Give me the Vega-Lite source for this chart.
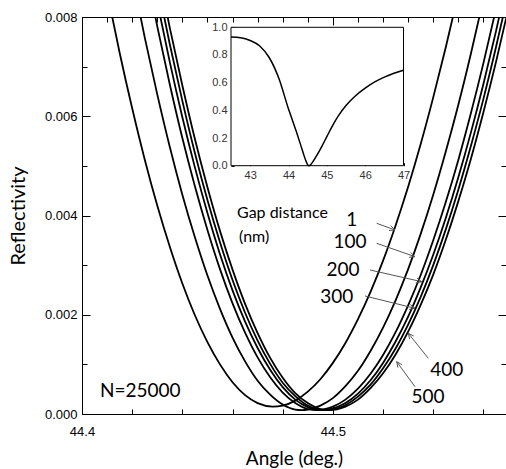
{
 "$schema": "https://vega.github.io/schema/vega-lite/v6.json",
 "autosize": {"type": "none"},
 "padding": {"left": 82, "top": 17, "right": 0, "bottom": 55},
 "width": 424,
 "height": 397,
 "background": "white",
 "config": {"view": {"stroke": null}, "axis": {"grid": false}},
 "datasets": {
  "curves": [
   {"gap":"1","angle":44.410,"reflectivity":0.00850},{"gap":"1","angle":44.415,"reflectivity":0.00728},{"gap":"1","angle":44.420,"reflectivity":0.00616},{"gap":"1","angle":44.425,"reflectivity":0.00513},{"gap":"1","angle":44.430,"reflectivity":0.00420},{"gap":"1","angle":44.435,"reflectivity":0.00337},{"gap":"1","angle":44.440,"reflectivity":0.00263},{"gap":"1","angle":44.445,"reflectivity":0.00199},{"gap":"1","angle":44.450,"reflectivity":0.00145},{"gap":"1","angle":44.455,"reflectivity":0.00100},{"gap":"1","angle":44.460,"reflectivity":0.00064},{"gap":"1","angle":44.465,"reflectivity":0.00038},{"gap":"1","angle":44.470,"reflectivity":0.00022},{"gap":"1","angle":44.476,"reflectivity":0.00015},{"gap":"1","angle":44.480,"reflectivity":0.00017},{"gap":"1","angle":44.485,"reflectivity":0.00027},{"gap":"1","angle":44.490,"reflectivity":0.00045},{"gap":"1","angle":44.495,"reflectivity":0.00070},{"gap":"1","angle":44.500,"reflectivity":0.00103},{"gap":"1","angle":44.505,"reflectivity":0.00143},{"gap":"1","angle":44.510,"reflectivity":0.00191},{"gap":"1","angle":44.515,"reflectivity":0.00246},{"gap":"1","angle":44.520,"reflectivity":0.00309},{"gap":"1","angle":44.525,"reflectivity":0.00380},{"gap":"1","angle":44.530,"reflectivity":0.00458},{"gap":"1","angle":44.535,"reflectivity":0.00544},{"gap":"1","angle":44.540,"reflectivity":0.00638},{"gap":"1","angle":44.545,"reflectivity":0.00739},{"gap":"1","angle":44.550,"reflectivity":0.00847},
   {"gap":"100","angle":44.420,"reflectivity":0.00884},{"gap":"100","angle":44.425,"reflectivity":0.00759},{"gap":"100","angle":44.430,"reflectivity":0.00644},{"gap":"100","angle":44.435,"reflectivity":0.00538},{"gap":"100","angle":44.440,"reflectivity":0.00442},{"gap":"100","angle":44.445,"reflectivity":0.00356},{"gap":"100","angle":44.450,"reflectivity":0.00279},{"gap":"100","angle":44.455,"reflectivity":0.00212},{"gap":"100","angle":44.460,"reflectivity":0.00154},{"gap":"100","angle":44.465,"reflectivity":0.00106},{"gap":"100","angle":44.470,"reflectivity":0.00067},{"gap":"100","angle":44.475,"reflectivity":0.00039},{"gap":"100","angle":44.480,"reflectivity":0.00019},{"gap":"100","angle":44.485,"reflectivity":0.00009},{"gap":"100","angle":44.4876,"reflectivity":0.00008},{"gap":"100","angle":44.490,"reflectivity":0.00009},{"gap":"100","angle":44.495,"reflectivity":0.00017},{"gap":"100","angle":44.500,"reflectivity":0.00032},{"gap":"100","angle":44.505,"reflectivity":0.00056},{"gap":"100","angle":44.510,"reflectivity":0.00087},{"gap":"100","angle":44.515,"reflectivity":0.00127},{"gap":"100","angle":44.520,"reflectivity":0.00174},{"gap":"100","angle":44.525,"reflectivity":0.00229},{"gap":"100","angle":44.530,"reflectivity":0.00292},{"gap":"100","angle":44.535,"reflectivity":0.00363},{"gap":"100","angle":44.540,"reflectivity":0.00442},{"gap":"100","angle":44.545,"reflectivity":0.00529},{"gap":"100","angle":44.550,"reflectivity":0.00623},{"gap":"100","angle":44.555,"reflectivity":0.00726},{"gap":"100","angle":44.560,"reflectivity":0.00836},
   {"gap":"200","angle":44.425,"reflectivity":0.00907},{"gap":"200","angle":44.430,"reflectivity":0.00781},{"gap":"200","angle":44.435,"reflectivity":0.00664},{"gap":"200","angle":44.440,"reflectivity":0.00556},{"gap":"200","angle":44.445,"reflectivity":0.00459},{"gap":"200","angle":44.450,"reflectivity":0.00371},{"gap":"200","angle":44.455,"reflectivity":0.00292},{"gap":"200","angle":44.460,"reflectivity":0.00223},{"gap":"200","angle":44.465,"reflectivity":0.00164},{"gap":"200","angle":44.470,"reflectivity":0.00114},{"gap":"200","angle":44.475,"reflectivity":0.00074},{"gap":"200","angle":44.480,"reflectivity":0.00043},{"gap":"200","angle":44.485,"reflectivity":0.00022},{"gap":"200","angle":44.490,"reflectivity":0.00010},{"gap":"200","angle":44.4935,"reflectivity":0.00008},{"gap":"200","angle":44.500,"reflectivity":0.00015},{"gap":"200","angle":44.505,"reflectivity":0.00029},{"gap":"200","angle":44.510,"reflectivity":0.00051},{"gap":"200","angle":44.515,"reflectivity":0.00081},{"gap":"200","angle":44.520,"reflectivity":0.00119},{"gap":"200","angle":44.525,"reflectivity":0.00165},{"gap":"200","angle":44.530,"reflectivity":0.00219},{"gap":"200","angle":44.535,"reflectivity":0.00280},{"gap":"200","angle":44.540,"reflectivity":0.00350},{"gap":"200","angle":44.545,"reflectivity":0.00427},{"gap":"200","angle":44.550,"reflectivity":0.00512},{"gap":"200","angle":44.555,"reflectivity":0.00606},{"gap":"200","angle":44.560,"reflectivity":0.00707},{"gap":"200","angle":44.565,"reflectivity":0.00816},{"gap":"200","angle":44.570,"reflectivity":0.00933},
   {"gap":"300","angle":44.425,"reflectivity":0.00960},{"gap":"300","angle":44.430,"reflectivity":0.00830},{"gap":"300","angle":44.435,"reflectivity":0.00709},{"gap":"300","angle":44.440,"reflectivity":0.00598},{"gap":"300","angle":44.445,"reflectivity":0.00497},{"gap":"300","angle":44.450,"reflectivity":0.00405},{"gap":"300","angle":44.455,"reflectivity":0.00322},{"gap":"300","angle":44.460,"reflectivity":0.00249},{"gap":"300","angle":44.465,"reflectivity":0.00186},{"gap":"300","angle":44.470,"reflectivity":0.00133},{"gap":"300","angle":44.475,"reflectivity":0.00089},{"gap":"300","angle":44.480,"reflectivity":0.00054},{"gap":"300","angle":44.485,"reflectivity":0.00029},{"gap":"300","angle":44.490,"reflectivity":0.00014},{"gap":"300","angle":44.4955,"reflectivity":0.00008},{"gap":"300","angle":44.500,"reflectivity":0.00011},{"gap":"300","angle":44.505,"reflectivity":0.00022},{"gap":"300","angle":44.510,"reflectivity":0.00041},{"gap":"300","angle":44.515,"reflectivity":0.00068},{"gap":"300","angle":44.520,"reflectivity":0.00103},{"gap":"300","angle":44.525,"reflectivity":0.00146},{"gap":"300","angle":44.530,"reflectivity":0.00196},{"gap":"300","angle":44.535,"reflectivity":0.00255},{"gap":"300","angle":44.540,"reflectivity":0.00321},{"gap":"300","angle":44.545,"reflectivity":0.00395},{"gap":"300","angle":44.550,"reflectivity":0.00477},{"gap":"300","angle":44.555,"reflectivity":0.00567},{"gap":"300","angle":44.560,"reflectivity":0.00665},{"gap":"300","angle":44.565,"reflectivity":0.00771},{"gap":"300","angle":44.570,"reflectivity":0.00885},
   {"gap":"400","angle":44.425,"reflectivity":0.01001},{"gap":"400","angle":44.430,"reflectivity":0.00868},{"gap":"400","angle":44.435,"reflectivity":0.00745},{"gap":"400","angle":44.440,"reflectivity":0.00631},{"gap":"400","angle":44.445,"reflectivity":0.00526},{"gap":"400","angle":44.450,"reflectivity":0.00431},{"gap":"400","angle":44.455,"reflectivity":0.00346},{"gap":"400","angle":44.460,"reflectivity":0.00270},{"gap":"400","angle":44.465,"reflectivity":0.00204},{"gap":"400","angle":44.470,"reflectivity":0.00148},{"gap":"400","angle":44.475,"reflectivity":0.00101},{"gap":"400","angle":44.480,"reflectivity":0.00063},{"gap":"400","angle":44.485,"reflectivity":0.00036},{"gap":"400","angle":44.490,"reflectivity":0.00017},{"gap":"400","angle":44.497,"reflectivity":0.00008},{"gap":"400","angle":44.500,"reflectivity":0.00009},{"gap":"400","angle":44.505,"reflectivity":0.00018},{"gap":"400","angle":44.510,"reflectivity":0.00035},{"gap":"400","angle":44.515,"reflectivity":0.00059},{"gap":"400","angle":44.520,"reflectivity":0.00092},{"gap":"400","angle":44.525,"reflectivity":0.00132},{"gap":"400","angle":44.530,"reflectivity":0.00180},{"gap":"400","angle":44.535,"reflectivity":0.00236},{"gap":"400","angle":44.540,"reflectivity":0.00300},{"gap":"400","angle":44.545,"reflectivity":0.00372},{"gap":"400","angle":44.550,"reflectivity":0.00452},{"gap":"400","angle":44.555,"reflectivity":0.00540},{"gap":"400","angle":44.560,"reflectivity":0.00635},{"gap":"400","angle":44.565,"reflectivity":0.00739},{"gap":"400","angle":44.570,"reflectivity":0.00850},
   {"gap":"500","angle":44.425,"reflectivity":0.01040},{"gap":"500","angle":44.430,"reflectivity":0.00904},{"gap":"500","angle":44.435,"reflectivity":0.00778},{"gap":"500","angle":44.440,"reflectivity":0.00662},{"gap":"500","angle":44.445,"reflectivity":0.00554},{"gap":"500","angle":44.450,"reflectivity":0.00457},{"gap":"500","angle":44.455,"reflectivity":0.00369},{"gap":"500","angle":44.460,"reflectivity":0.00291},{"gap":"500","angle":44.465,"reflectivity":0.00222},{"gap":"500","angle":44.470,"reflectivity":0.00163},{"gap":"500","angle":44.475,"reflectivity":0.00113},{"gap":"500","angle":44.480,"reflectivity":0.00073},{"gap":"500","angle":44.485,"reflectivity":0.00042},{"gap":"500","angle":44.490,"reflectivity":0.00022},{"gap":"500","angle":44.495,"reflectivity":0.00010},{"gap":"500","angle":44.4984,"reflectivity":0.00008},{"gap":"500","angle":44.505,"reflectivity":0.00015},{"gap":"500","angle":44.510,"reflectivity":0.00029},{"gap":"500","angle":44.515,"reflectivity":0.00052},{"gap":"500","angle":44.520,"reflectivity":0.00082},{"gap":"500","angle":44.525,"reflectivity":0.00120},{"gap":"500","angle":44.530,"reflectivity":0.00166},{"gap":"500","angle":44.535,"reflectivity":0.00220},{"gap":"500","angle":44.540,"reflectivity":0.00281},{"gap":"500","angle":44.545,"reflectivity":0.00351},{"gap":"500","angle":44.550,"reflectivity":0.00429},{"gap":"500","angle":44.555,"reflectivity":0.00514},{"gap":"500","angle":44.560,"reflectivity":0.00608},{"gap":"500","angle":44.565,"reflectivity":0.00709},{"gap":"500","angle":44.570,"reflectivity":0.00818}
  ],
  "arrows": [
   {"arrow":"1","x":44.51746,"y":0.003843,"x2":44.52476,"y2":0.003708},
   {"arrow":"1","x":44.52308,"y":0.003794,"x2":44.52476,"y2":0.003708},
   {"arrow":"1","x":44.52236,"y":0.003698,"x2":44.52476,"y2":0.003708},
   {"arrow":"100","x":44.51746,"y":0.003440,"x2":44.53273,"y2":0.003170},
   {"arrow":"100","x":44.53101,"y":0.003254,"x2":44.53273,"y2":0.003170},
   {"arrow":"100","x":44.53034,"y":0.003158,"x2":44.53273,"y2":0.003170},
   {"arrow":"200","x":44.51479,"y":0.002902,"x2":44.53540,"y2":0.002666},
   {"arrow":"200","x":44.53352,"y":0.002741,"x2":44.53540,"y2":0.002666},
   {"arrow":"200","x":44.53304,"y":0.002640,"x2":44.53540,"y2":0.002666},
   {"arrow":"300","x":44.51280,"y":0.002378,"x2":44.53273,"y2":0.002130},
   {"arrow":"300","x":44.53085,"y":0.002207,"x2":44.53273,"y2":0.002130},
   {"arrow":"300","x":44.53037,"y":0.002106,"x2":44.53273,"y2":0.002130},
   {"arrow":"400","x":44.53803,"y":0.001122,"x2":44.53006,"y2":0.001626},
   {"arrow":"400","x":44.53061,"y":0.001509,"x2":44.53006,"y2":0.001626},
   {"arrow":"400","x":44.53221,"y":0.001572,"x2":44.53006,"y2":0.001626},
   {"arrow":"500","x":44.53273,"y":0.000550,"x2":44.52543,"y2":0.001054},
   {"arrow":"500","x":44.52591,"y":0.000935,"x2":44.52543,"y2":0.001054},
   {"arrow":"500","x":44.52750,"y":0.000995,"x2":44.52543,"y2":0.001054}
  ],
  "numbers": [
   {"label":"1","x":44.5075,"y":0.003909},
   {"label":"100","x":44.50682,"y":0.003472},
   {"label":"200","x":44.50403,"y":0.002902},
   {"label":"300","x":44.50152,"y":0.002364},
   {"label":"400","x":44.54536,"y":0.000887},
   {"label":"500","x":44.53791,"y":0.000349}
  ],
  "inset": [
   {"angle":42.5,"reflectivity":0.93},{"angle":42.75,"reflectivity":0.925},{"angle":43.0,"reflectivity":0.905},{"angle":43.25,"reflectivity":0.865},{"angle":43.5,"reflectivity":0.78},{"angle":43.75,"reflectivity":0.63},{"angle":44.0,"reflectivity":0.41},{"angle":44.1,"reflectivity":0.33},{"angle":44.2,"reflectivity":0.25},{"angle":44.3,"reflectivity":0.165},{"angle":44.38,"reflectivity":0.095},{"angle":44.44,"reflectivity":0.045},{"angle":44.49,"reflectivity":0.012},{"angle":44.53,"reflectivity":0.0},{"angle":44.58,"reflectivity":0.008},{"angle":44.65,"reflectivity":0.035},{"angle":44.75,"reflectivity":0.08},{"angle":44.87,"reflectivity":0.14},{"angle":45.0,"reflectivity":0.21},{"angle":45.15,"reflectivity":0.29},{"angle":45.3,"reflectivity":0.36},{"angle":45.5,"reflectivity":0.435},{"angle":45.75,"reflectivity":0.505},{"angle":46.0,"reflectivity":0.56},{"angle":46.25,"reflectivity":0.605},{"angle":46.5,"reflectivity":0.64},{"angle":46.75,"reflectivity":0.668},{"angle":47.0,"reflectivity":0.69}
  ]
 },
 "resolve": {"scale": {"x": "independent", "y": "independent"}, "axis": {"x": "independent", "y": "independent"}},
 "layer": [
  {
   "layer": [
    {
     "data": {"name": "curves"},
     "mark": {"type": "line", "clip": true, "color": "black", "strokeWidth": 1.8, "interpolate": "monotone"},
     "encoding": {
      "x": {"field": "angle", "type": "quantitative",
       "scale": {"domain": [44.4, 44.569], "nice": false, "zero": false},
       "axis": {"orient": "bottom", "title": "Angle (deg.)",
        "values": [44.4,44.41,44.42,44.43,44.44,44.45,44.46,44.47,44.48,44.49,44.5,44.51,44.52,44.53,44.54,44.55,44.56],
        "labelExpr": "(abs(datum.value-44.4)<0.0001 || abs(datum.value-44.5)<0.0001) ? format(datum.value, '.1f') : ''",
        "tickSize": {"condition": {"test": "abs(datum.value-44.4)<0.0001 || abs(datum.value-44.5)<0.0001", "value": -8}, "value": -5},
        "labelPadding": 19, "labelFont": "Liberation Sans", "labelFontSize": 13, "labelColor": "black",
        "labelFlush": false, "labelOverlap": false,
        "tickColor": "black", "domainColor": "black",
        "titleFont": "Lato", "titleFontSize": 19, "titleFontWeight": "normal", "titleColor": "black",
        "titleX": 212, "titleY": 44, "titleBaseline": "middle", "titleAlign": "center"}},
      "y": {"field": "reflectivity", "type": "quantitative",
       "scale": {"domain": [0, 0.008], "nice": false, "zero": false},
       "axis": {"orient": "left", "title": "Reflectivity",
        "values": [0,0.001,0.002,0.003,0.004,0.005,0.006,0.007,0.008],
        "labelExpr": "round(datum.value*1000) % 2 == 0 ? format(datum.value, '.3f') : ''",
        "tickSize": {"condition": {"test": "round(datum.value*1000) % 2 == 0", "value": -8}, "value": -5},
        "labelPadding": 13, "labelFont": "Liberation Sans", "labelFontSize": 13, "labelColor": "black",
        "labelFlush": false, "labelOverlap": false,
        "tickColor": "black", "domainColor": "black",
        "titleFont": "Lato", "titleFontSize": 20, "titleFontWeight": "normal", "titleColor": "black",
        "titleX": -64, "titleY": 198.5, "titleAngle": -90, "titleBaseline": "middle", "titleAlign": "center"}},
      "detail": {"field": "gap", "type": "nominal"}
     }
    },
    {
     "data": {"name": "arrows"},
     "mark": {"type": "rule", "color": "#555555", "strokeWidth": 1},
     "encoding": {
      "x": {"field": "x", "type": "quantitative", "scale": {"domain": [44.4, 44.569], "nice": false, "zero": false}},
      "y": {"field": "y", "type": "quantitative", "scale": {"domain": [0, 0.008], "nice": false, "zero": false}},
      "x2": {"field": "x2"},
      "y2": {"field": "y2"},
      "detail": {"field": "arrow", "type": "nominal"}
     }
    },
    {
     "data": {"name": "numbers"},
     "mark": {"type": "text", "align": "center", "baseline": "middle", "font": "Lato", "fontSize": 19, "color": "black"},
     "encoding": {
      "x": {"field": "x", "type": "quantitative", "scale": {"domain": [44.4, 44.569], "nice": false, "zero": false}},
      "y": {"field": "y", "type": "quantitative", "scale": {"domain": [0, 0.008], "nice": false, "zero": false}},
      "text": {"field": "label", "type": "nominal"}
     }
    },
    {
     "data": {"values": [{"label": "N=25000", "x": 44.40717, "y": 0.000463}]},
     "mark": {"type": "text", "align": "left", "baseline": "middle", "font": "Lato", "fontSize": 19, "color": "black"},
     "encoding": {
      "x": {"field": "x", "type": "quantitative", "scale": {"domain": [44.4, 44.569], "nice": false, "zero": false}},
      "y": {"field": "y", "type": "quantitative", "scale": {"domain": [0, 0.008], "nice": false, "zero": false}},
      "text": {"field": "label", "type": "nominal"}
     }
    },
    {
     "data": {"values": [{"label": "Gap distance", "x": 44.46178, "y": 0.00405}, {"label": "(nm)", "x": 44.46258, "y": 0.003573}]},
     "mark": {"type": "text", "align": "left", "baseline": "middle", "font": "Lato", "fontSize": 16, "color": "black"},
     "encoding": {
      "x": {"field": "x", "type": "quantitative", "scale": {"domain": [44.4, 44.569], "nice": false, "zero": false}},
      "y": {"field": "y", "type": "quantitative", "scale": {"domain": [0, 0.008], "nice": false, "zero": false}},
      "text": {"field": "label", "type": "nominal"}
     }
    }
   ]
  },
  {
   "data": {"values": [{"a": 44.4, "r": 0}, {"a": 44.569, "r": 0.008}]},
   "mark": {"type": "point", "opacity": 0},
   "encoding": {
    "x": {"field": "a", "type": "quantitative", "scale": {"domain": [44.4, 44.569], "nice": false, "zero": false},
     "axis": {"orient": "top", "title": null, "labels": false,
      "values": [44.4,44.41,44.42,44.43,44.44,44.45,44.46,44.47,44.48,44.49,44.5,44.51,44.52,44.53,44.54,44.55,44.56],
      "tickSize": {"condition": {"test": "abs(datum.value-44.4)<0.0001 || abs(datum.value-44.5)<0.0001", "value": -8}, "value": -5},
      "tickColor": "black", "domainColor": "black"}},
    "y": {"field": "r", "type": "quantitative", "scale": {"domain": [0, 0.008], "nice": false, "zero": false},
     "axis": {"orient": "right", "title": null, "labels": false,
      "values": [0,0.001,0.002,0.003,0.004,0.005,0.006,0.007,0.008],
      "tickSize": {"condition": {"test": "round(datum.value*1000) % 2 == 0", "value": -8}, "value": -5},
      "tickColor": "black", "domainColor": "black"}}
   }
  },
  {
   "layer": [
    {
     "data": {"values": [{"x1": 42.5, "x2": 47, "y1": 0, "y2": 1}]},
     "mark": {"type": "rect", "fill": "white", "stroke": "black", "strokeWidth": 1},
     "encoding": {
      "x": {"field": "x1", "type": "quantitative",
       "scale": {"domain": [42.5, 47], "range": [149, 321.5], "nice": false, "zero": false},
       "axis": {"orient": "bottom", "offset": -248.3, "title": null, "domain": false,
        "values": [43, 44, 45, 46, 47], "format": "d", "tickSize": -3, "tickColor": "black",
        "labelPadding": 6.5, "labelFont": "Liberation Sans", "labelFontSize": 11, "labelColor": "#333333",
        "labelFlush": false, "labelOverlap": false}},
      "x2": {"field": "x2"},
      "y": {"field": "y1", "type": "quantitative",
       "scale": {"domain": [0, 1], "range": [148.7, 10.3], "nice": false, "zero": false},
       "axis": {"orient": "left", "offset": -149, "title": null, "domain": false,
        "values": [0, 0.2, 0.4, 0.6, 0.8, 1.0], "format": ".1f", "tickSize": -3, "tickColor": "black",
        "labelPadding": 7, "labelFont": "Liberation Sans", "labelFontSize": 11, "labelColor": "#333333",
        "labelFlush": false, "labelOverlap": false}},
      "y2": {"field": "y2"}
     }
    },
    {
     "data": {"name": "inset"},
     "mark": {"type": "line", "color": "black", "strokeWidth": 1.5, "interpolate": "monotone"},
     "encoding": {
      "x": {"field": "angle", "type": "quantitative", "scale": {"domain": [42.5, 47], "range": [149, 321.5], "nice": false, "zero": false}},
      "y": {"field": "reflectivity", "type": "quantitative", "scale": {"domain": [0, 1], "range": [148.7, 10.3], "nice": false, "zero": false}}
     }
    }
   ]
  }
 ]
}
